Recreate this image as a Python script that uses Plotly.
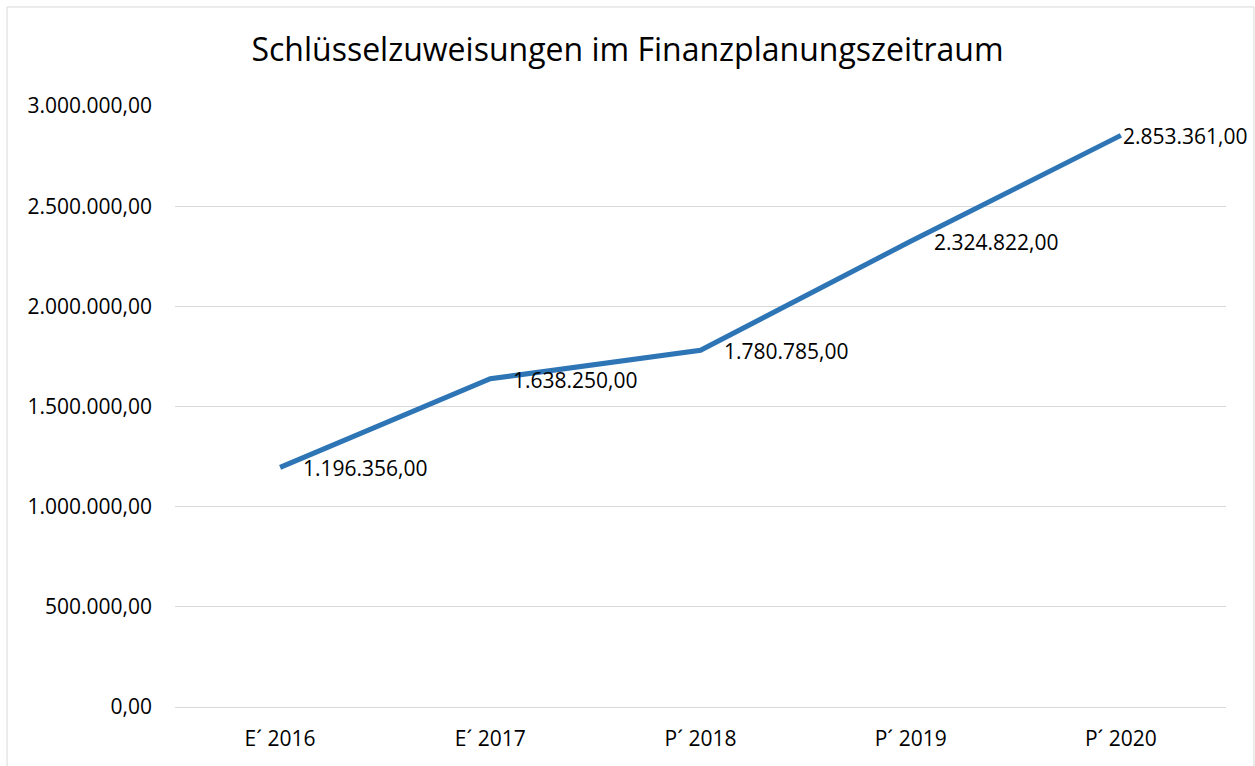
"""Line chart: Schlüsselzuweisungen im Finanzplanungszeitraum."""

import plotly.graph_objects as go

years = ["E\u00b4 2016", "E\u00b4 2017", "P\u00b4 2018", "P\u00b4 2019", "P\u00b4 2020"]
zuweisungen = [1196356.00, 1638250.00, 1780785.00, 2324822.00, 2853361.00]
y_ticks = [0, 500000, 1000000, 1500000, 2000000, 2500000, 3000000]


def de_format(v):
    # German number format: 1.234.567,00
    s = f"{v:,.2f}"
    return s.replace(",", "X").replace(".", ",").replace("X", ".")


FONT = "Open Sans"

fig = go.Figure(go.Scatter(
    x=years, y=zuweisungen, mode="lines",
    line=dict(color="#2E75B6", width=5),
    hoverinfo="skip",
))

# data labels to the right of each point (last one pulled in, like Excel)
for i, (x, y) in enumerate(zip(years, zuweisungen)):
    fig.add_annotation(
        x=x, y=y, text=de_format(y), showarrow=False,
        xanchor="left", yanchor="middle",
        xshift=0 if i == len(years) - 1 else 21, yshift=-1,
        font=dict(family=FONT, size=21, color="#000000"),
    )

# chart border
fig.add_shape(
    type="rect", xref="paper", yref="paper",
    x0=-0.1598, x1=1.0266, y0=-0.113, y1=1.1628,
    line=dict(color="#D9D9D9", width=1), layer="below",
)

fig.update_layout(
    width=1255, height=766,
    margin=dict(l=175, r=29, t=105, b=59),
    paper_bgcolor="white", plot_bgcolor="white",
    showlegend=False,
    title=dict(
        text="Schlüsselzuweisungen im Finanzplanungszeitraum",
        x=0.5, xanchor="center", y=0.9347, yanchor="middle",
        font=dict(family=FONT, size=32, color="#000000"),
    ),
    font=dict(family=FONT, size=21, color="#000000"),
)
fig.update_xaxes(
    range=[-0.5, 4.5], showgrid=False, showline=False, zeroline=False,
    ticks="", tickfont=dict(family=FONT, size=21), ticklabelstandoff=17,
)
fig.update_yaxes(
    range=[0, 3005000], tickvals=y_ticks,
    ticktext=[de_format(v) for v in y_ticks],
    showgrid=True, gridcolor="#D9D9D9", gridwidth=1,
    zeroline=True, zerolinecolor="#D9D9D9", zerolinewidth=1,
    showline=False, ticks="", ticklabelstandoff=22,
    tickfont=dict(family=FONT, size=21),
)

fig.write_html(
    "out.html",
    config={"displayModeBar": False},
    post_script="document.body.style.margin='0';",
)
